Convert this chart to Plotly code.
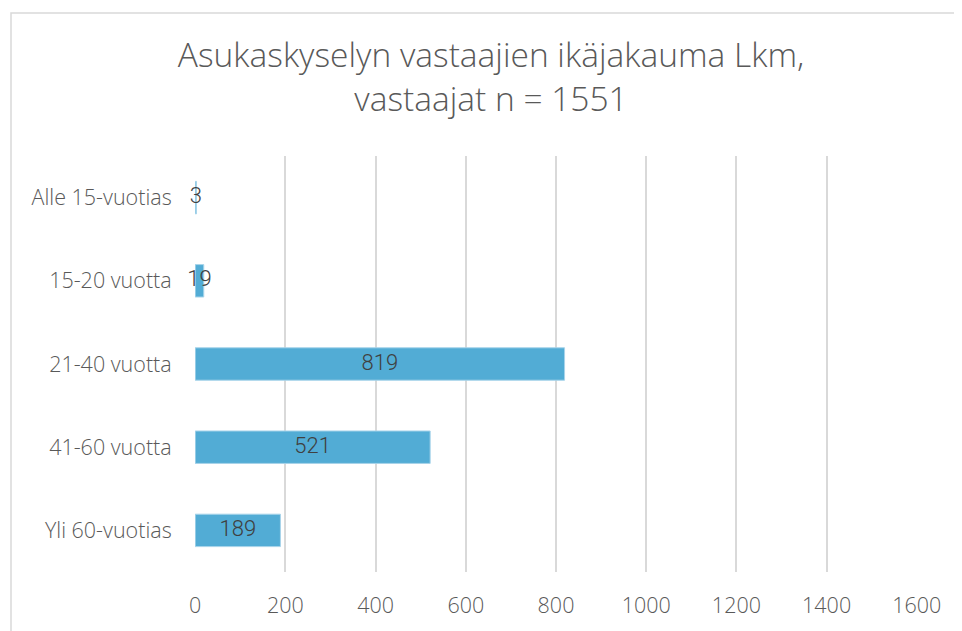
import plotly.graph_objects as go

categories = ["Alle 15-vuotias", "15-20 vuotta", "21-40 vuotta", "41-60 vuotta", "Yli 60-vuotias"]
values = [3, 19, 819, 521, 189]
tick_vals = [0, 200, 400, 600, 800, 1000, 1200, 1400, 1600]

FONT = "Open Sans"
OFF = 8  # default page body margin
W, H = 962 - OFF, 631 - OFF
L, T = 195 - OFF, 156 - OFF
pw, ph = 722, 422
R, B = W - L - pw, H - T - ph

fig = go.Figure()
fig.add_trace(go.Bar(
    y=categories, x=values, orientation="h",
    marker=dict(color="#52acd5", line=dict(color="#a8d4ea", width=1)),
    width=0.39, hoverinfo="skip",
))
fig.add_trace(go.Scatter(
    y=categories, x=[v / 2 for v in values], mode="text",
    text=[str(v) for v in values], textposition="middle center",
    textfont=dict(family="Roboto", size=22, color="#404040", weight=300),
    hoverinfo="skip", cliponaxis=False,
))

fig.update_layout(
    width=W, height=H,
    margin=dict(l=L, r=R, t=T, b=B),
    paper_bgcolor="white", plot_bgcolor="white",
    showlegend=False,
    title=dict(
        text="Asukaskyselyn vastaajien ikäjakauma Lkm,<br>vastaajat n = 1551",
        x=(491 - OFF) / W, xref="container", xanchor="center",
        y=1 - (67 - OFF) / H, yref="container", yanchor="top",
        font=dict(family=FONT, size=33.5, color="#595959", weight=300),
    ),
    xaxis=dict(
        range=[-0.4, 1600.4], tickvals=tick_vals, showgrid=True,
        gridcolor="#d9d9d9", gridwidth=1.5, zeroline=False,
        showline=False, ticks="outside", ticklen=14, tickcolor="rgba(0,0,0,0)",
        tickfont=dict(family=FONT, size=21.5, color="#595959", weight=300),
        fixedrange=True,
    ),
    yaxis=dict(
        categoryorder="array", categoryarray=categories, autorange="reversed",
        showgrid=False, zeroline=False, showline=False,
        ticks="outside", ticklen=18, tickcolor="rgba(0,0,0,0)",
        tickfont=dict(family=FONT, size=21.5, color="#595959", weight=300),
        fixedrange=True,
    ),
    shapes=[dict(
        type="rect", xref="paper", yref="paper",
        x0=(11 - OFF - L) / pw, x1=(W + 20 - L) / pw,
        y0=-(B + 20) / ph, y1=(H - (11 - OFF) - B) / ph,
        line=dict(color="#d9d9d9", width=1.5), fillcolor="rgba(0,0,0,0)",
        layer="below",
    )],
)

fig.write_html("out.html")
